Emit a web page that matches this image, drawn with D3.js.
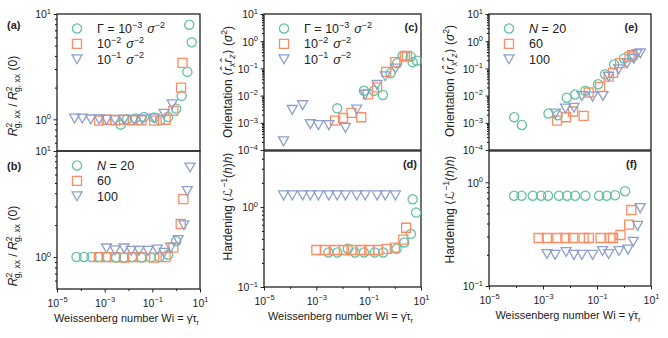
<!DOCTYPE html>
<html>
<head>
<meta charset="utf-8">
<script src="https://cdn.jsdelivr.net/npm/d3@7"></script>
<style>
  body { margin: 0; background: #fff; }
  text { font-family: "Liberation Sans", Arial, sans-serif; fill: #222; }
</style>
</head>
<body>
<svg id="fig" width="668" height="338"></svg>
<script>
// ---- data: [Wi, value] ----
// (a) R^2_g,xx / R^2_g,xx(0), varying Gamma
const aGamma3 = [[4.7e-3,0.89],[8.7e-3,1.0],[1.9e-2,1.02],[4.5e-2,1.05],[0.12,1.04],[0.21,0.98],[0.46,1.05],[1.0,1.26],[1.7,1.67],[2.95,2.82],[3.55,7.9],[4.5,5.4]];
const aGamma2 = [[5.8e-4,0.97],[1.2e-3,0.99],[2.7e-3,0.98],[6.5e-3,0.99],[1.5e-2,0.98],[3.5e-2,0.98],[0.12,0.97],[0.36,0.99],[0.76,1.2],[1.6,2.0],[1.85,3.44]];
const aGamma1 = [[5.5e-5,1.02],[1.15e-4,1.02],[2.6e-4,1.0],[5.8e-4,1.0],[1.2e-3,0.99],[2.7e-3,0.99],[6.5e-3,0.99],[1.7e-2,0.99],[3.8e-2,1.0],[0.12,1.02],[0.31,1.13],[0.68,1.39]];
// (b) same quantity, varying N
const bN20 = [[6.6e-5,1.0],[1.35e-4,1.0],[2.8e-4,1.0],[5.8e-4,1.0],[1.26e-3,1.0],[3.0e-3,0.99],[6.5e-3,0.99],[1.4e-2,1.0],[3.5e-2,0.99],[8.7e-2,0.99],[0.2,1.0],[0.46,1.05],[1.0,1.41]];
const bN60 = [[5.8e-4,1.0],[1.2e-3,1.0],[2.7e-3,1.0],[6.5e-3,0.99],[1.5e-2,1.0],[3.5e-2,1.0],[0.12,0.99],[0.36,1.0],[0.76,1.23],[1.55,2.05],[2.0,3.52]];
const bN100 = [[1.2e-3,1.21],[2.7e-3,1.16],[6.5e-3,1.21],[1.3e-2,1.15],[2.75e-2,1.15],[6.6e-2,1.15],[0.16,1.18],[0.31,1.1],[0.59,1.23],[1.2,1.45],[2.1,2.0],[2.95,4.2],[3.8,7.0]];
// (c) orientation, varying Gamma
const cGamma3 = [[6.3e-3,3.4e-3],[6.6e-2,1.5e-2],[0.16,1.5e-2],[0.35,1.05e-2],[0.69,6.6e-2],[1.23,0.155],[2.0,0.29],[4.1,0.27],[4.8,0.17],[6.9,0.19]];
const cGamma2 = [[5.2e-3,1.2e-3],[1.05e-2,1.5e-3],[2.2e-2,2.3e-3],[5.2e-2,1.6e-3],[9.3e-2,1.1e-2],[0.21,2.0e-2],[0.47,7.5e-2],[1.05,0.17],[2.4,0.27],[2.9,0.29]];
const cGamma1 = [[5.6e-5,2.1e-4],[1.2e-4,3e-3],[3.0e-4,4.5e-3],[5.9e-4,9e-4],[1.2e-3,8.3e-4],[3.0e-3,8.3e-4],[1.3e-2,6.6e-4],[3.5e-2,3.1e-3],[7.4e-2,1.1e-2],[0.21,2.5e-2],[0.43,5.2e-2],[1.05,0.1]];
// (d) hardening, varying Gamma
const dGamma3 = [[2.9e-3,0.27],[6.3e-3,0.27],[1.6e-2,0.3],[3.0e-2,0.27],[6.6e-2,0.27],[0.17,0.27],[0.36,0.27],[1.17,0.3],[2.3,0.36],[4.1,0.46],[4.8,1.25],[6.5,0.85]];
const dGamma2 = [[1.0e-3,0.29],[2.1e-3,0.29],[5.1e-3,0.29],[1.15e-2,0.29],[2.2e-2,0.29],[5.4e-2,0.29],[0.105,0.29],[0.23,0.29],[0.49,0.3],[1.0,0.31],[2.1,0.39],[2.7,0.55]];
const dGamma1 = [[5.6e-5,1.4],[1.2e-4,1.4],[3.0e-4,1.4],[5.9e-4,1.4],[1.2e-3,1.4],[3.0e-3,1.4],[6.2e-3,1.4],[1.3e-2,1.4],[3.5e-2,1.4],[7.4e-2,1.4],[0.21,1.4],[0.43,1.4],[1.05,1.4]];
// (e) orientation, varying N
const eN20 = [[8.5e-5,1.6e-3],[1.65e-4,8.3e-4],[1.6e-3,2.2e-3],[3.5e-3,1.9e-3],[7.6e-3,8.3e-3],[1.55e-2,1.1e-2],[3.7e-2,1.5e-2],[0.11,2.6e-2],[0.2,6.1e-2],[0.43,0.14],[1.0,0.23],[2.1,0.31]];
const eN60 = [[3.3e-3,1.2e-3],[7.1e-3,1.6e-3],[1.3e-2,2.6e-3],[3.2e-2,1.8e-3],[4.9e-2,1.3e-2],[0.13,2.1e-2],[0.27,5.0e-2],[0.39,6.9e-2],[0.72,0.155],[1.6,0.27],[2.0,0.31]];
const eN100 = [[2.9e-3,2.2e-3],[6.8e-3,3.4e-3],[1.4e-2,3.6e-3],[2.75e-2,9.8e-3],[6.9e-2,9.3e-3],[0.166,9.8e-3],[0.27,5e-2],[0.63,9.3e-2],[1.3,0.155],[2.3,0.23],[3.0,0.34],[4.0,0.36]];
// (f) hardening, varying N
const fN20 = [[8.5e-5,0.74],[1.6e-4,0.74],[4.2e-4,0.74],[8.5e-4,0.74],[1.55e-3,0.74],[3.9e-3,0.74],[7.9e-3,0.74],[1.55e-2,0.74],[3.7e-2,0.74],[0.12,0.74],[0.23,0.74],[0.47,0.75],[1.1,0.82]];
const fN60 = [[6.9e-4,0.29],[1.4e-3,0.29],[3.4e-3,0.29],[6.8e-3,0.29],[1.3e-2,0.29],[3.2e-2,0.29],[5.0e-2,0.29],[0.135,0.29],[0.31,0.29],[0.39,0.29],[0.74,0.31],[1.55,0.39],[1.86,0.54]];
const fN100 = [[1.4e-3,0.204],[2.8e-3,0.2],[7.2e-3,0.213],[1.4e-2,0.2],[2.75e-2,0.2],[6.9e-2,0.2],[0.16,0.218],[0.27,0.204],[0.65,0.218],[1.4,0.225],[2.2,0.268],[3.2,0.381],[4.0,0.565]];

const xTickExps = [-5, -4, -3, -2, -1, 0, 1];
const xLabelExps = [-5, -3, -1, 1];
const gammaLegend = ["-3", "-2", "-1"];
const nLegend = ["20", "60", "100"];

const green = "#66c2a5", orange = "#fc8d62", blue = "#8da0cb";
const ink = "#222";

const svg = d3.select("#fig");

// rich text: parts {t, it, sh (baseline shift px, up +), fs, dx}
function rich(t, parts) {
  let prev = 0;
  parts.forEach(p => {
    const sh = p.sh || 0;
    const ts = t.append("tspan").text(p.t);
    if (sh !== prev) ts.attr("dy", prev - sh);
    if (p.fs) ts.attr("font-size", p.fs);
    if (p.it) ts.attr("font-style", "italic");
    if (p.dx) ts.attr("dx", p.dx);
    prev = sh;
  });
}
const pow10 = e => [{t: "10"}, {t: (e < 0 ? "\u2212" : "") + Math.abs(e), sh: 4.6, fs: 7.5}];
const sup = (s, base) => ({t: s, sh: base * 0.42, fs: base * 0.72});

const symCircle = d3.symbol(d3.symbolCircle, Math.PI * 4.6 * 4.6)();
const symSquare = d3.symbol(d3.symbolSquare, 81)();
const symTri = "M-5,-4.3L5,-4.3L0,4.6Z";

const cols = [[57, 200], [264, 421], [489, 651]];

const labR = [{t: "R", it: true}, sup("2", 12), {t: "g, xx", sh: -3.2, fs: 8.6, dx: -5.5}, {t: " / "},
  {t: "R", it: true}, sup("2", 12), {t: "g, xx", sh: -3.2, fs: 8.6, dx: -5.5}, {t: " (0)"}];
const labO = [{t: "Orientation \u27e8"}, {t: "r\u0302", it: true}, {t: "x", it: true, sh: -2.8, fs: 8.6},
  {t: "r\u0302", it: true}, {t: "z", it: true, sh: -2.8, fs: 8.6}, {t: "\u27e9 ("}, {t: "\u03c3", it: true}, sup("2", 12), {t: ")"}];
const labH = [{t: "Hardening \u27e8\u2112"}, sup("\u22121", 12), {t: "("}, {t: "h", it: true}, {t: ")"}, {t: "h", it: true}, {t: "\u27e9"}];

const panels = [
  {tag: "(a)", col: 0, top: 14, bot: 151, dom: [0.5, 10], maj: [1, 10], series: [aGamma3, aGamma2, aGamma1], leg: "g",
   tagPos: [7, 29, "start"], ylab: labR, ylabPos: [17, 96]},
  {tag: "(b)", col: 0, top: 151, bot: 289, dom: [0.5, 10], maj: [1, 10], series: [bN20, bN60, bN100], leg: "n", xax: true,
   tagPos: [7, 170, "start"], ylab: labR, ylabPos: [17, 246]},
  {tag: "(c)", col: 1, top: 14, bot: 150, dom: [1e-4, 10], maj: [1e-4, 1e-3, 1e-2, 1e-1, 1, 10], series: [cGamma3, cGamma2, cGamma1], leg: "g",
   tagPos: [418, 31, "end"], ylab: labO, ylabPos: [232, 82]},
  {tag: "(d)", col: 1, top: 151, bot: 287, dom: [0.1, 5], maj: [0.1, 1], series: [dGamma3, dGamma2, dGamma1], xax: true,
   tagPos: [417, 168, "end"], ylab: labH, ylabPos: [232, 206]},
  {tag: "(e)", col: 2, top: 14, bot: 150, dom: [1e-4, 10], maj: [1e-4, 1e-3, 1e-2, 1e-1, 1, 10], series: [eN20, eN60, eN100], leg: "n",
   tagPos: [638, 31, "end"], ylab: labO, ylabPos: [454, 81]},
  {tag: "(f)", col: 2, top: 151, bot: 286, dom: [0.1, 2], maj: [0.1, 1], series: [fN20, fN60, fN100], xax: true,
   tagPos: [637, 168, "end"], ylab: labH, ylabPos: [454, 209]}
];

const shapes = [symCircle, symSquare, symTri];
const colors = [green, orange, blue];

function minorTicks(dom) {
  const out = [];
  for (let k = Math.floor(Math.log10(dom[0])); k <= Math.ceil(Math.log10(dom[1])); k++) {
    for (let m = 2; m <= 9; m++) {
      const v = m * Math.pow(10, k);
      if (v > dom[0] * 1.0001 && v < dom[1] * 0.9999) out.push(v);
    }
  }
  return out;
}

panels.forEach(p => {
  const [x0, x1] = cols[p.col];
  const x = d3.scaleLog().domain([1e-5, 1e1]).range([x0, x1]);
  const y = d3.scaleLog().domain(p.dom).range([p.bot, p.top]);
  const g = svg.append("g");

  // y axis: major + minor ticks
  const yMaj = g.append("g").attr("transform", `translate(${x0},0)`)
    .call(d3.axisLeft(y).tickValues(p.maj).tickSize(3.5).tickPadding(6).tickFormat(() => ""));
  g.append("g").attr("transform", `translate(${x0},0)`)
    .call(d3.axisLeft(y).tickValues(minorTicks(p.dom)).tickSize(2).tickFormat(() => ""))
    .call(s => s.select(".domain").remove());
  yMaj.select(".domain").remove();
  yMaj.selectAll(".tick line").attr("stroke", ink).attr("stroke-width", 1);
  yMaj.selectAll(".tick text").each(function(d) {
    const t = d3.select(this).attr("dy", null).attr("y", 3.8).attr("x", -6)
      .attr("font-size", 10.5).attr("fill", ink).attr("font-family", null);
    rich(t, pow10(Math.round(Math.log10(d))));
  });

  // x axis on bottom panels
  if (p.xax) {
    const xa = g.append("g").attr("transform", `translate(0,${p.bot})`)
      .call(d3.axisBottom(x).tickValues(xTickExps.map(e => Math.pow(10, e))).tickSize(3.5).tickFormat(() => ""));
    xa.select(".domain").remove();
    xa.selectAll(".tick").each(function(d) {
      const e = Math.round(Math.log10(d));
      const tk = d3.select(this);
      if (!xLabelExps.includes(e)) { tk.select("line").attr("y2", 2); return; }
      const t = tk.select("text").attr("dy", null).attr("y", 17.5).attr("font-size", 10.5).attr("fill", ink).attr("font-family", null);
      rich(t, pow10(e));
    });
    xa.selectAll(".tick line").attr("stroke", ink);
    const xl = g.append("text").attr("x", (x0 + x1) / 2 - 2).attr("y", p.bot + 33)
      .attr("text-anchor", "middle").attr("font-size", 11);
    rich(xl, [{t: "Weissenberg number Wi = \u03b3\u0307\u03c4"}, {t: "r", sh: -2.5, fs: 7.7}]);
  }

  // frame
  g.append("rect").attr("x", x0).attr("y", p.top).attr("width", x1 - x0).attr("height", p.bot - p.top)
    .attr("fill", "none").attr("stroke", ink).attr("stroke-width", 1.3);

  // data markers
  p.series.forEach((s, i) => {
    g.append("g").selectAll("path").data(s).join("path")
      .attr("d", shapes[i])
      .attr("transform", d => `translate(${x(d[0])},${y(d[1])})`)
      .attr("fill", "none").attr("stroke", colors[i]).attr("stroke-width", 1.3);
  });

  // legend
  if (p.leg) {
    const lx = x0 + 20, ly = p.top + 14.5, dy = 15.3;
    [0, 1, 2].forEach(i => {
      g.append("path").attr("d", shapes[i]).attr("transform", `translate(${lx},${ly + i * dy})`)
        .attr("fill", "none").attr("stroke", colors[i]).attr("stroke-width", 1.3);
      const t = g.append("text").attr("x", lx + 20).attr("y", ly + i * dy + 4.4).attr("font-size", 12.5);
      if (p.leg === "g") {
        const parts = [];
        if (i === 0) parts.push({t: "\u0393 = "});
        parts.push({t: "10"}, {t: gammaLegend[i].replace("-", "\u2212"), sh: 5.2, fs: 9},
          {t: " \u03c3", it: true, dx: 1.5}, {t: "\u22122", sh: 5.2, fs: 9});
        rich(t, parts);
      } else {
        rich(t, i === 0 ? [{t: "N", it: true}, {t: " = " + nLegend[i]}] : [{t: nLegend[i]}]);
      }
    });
  }

  // panel tag
  svg.append("text").attr("x", p.tagPos[0]).attr("y", p.tagPos[1]).attr("text-anchor", p.tagPos[2])
    .attr("font-size", 11).attr("font-weight", "bold").text(p.tag);

  // y label
  const yl = svg.append("text").attr("transform", `translate(${p.ylabPos[0]},${p.ylabPos[1]}) rotate(-90)`)
    .attr("text-anchor", "middle").attr("font-size", 12);
  rich(yl, p.ylab);
});
</script>
</body>
</html>
